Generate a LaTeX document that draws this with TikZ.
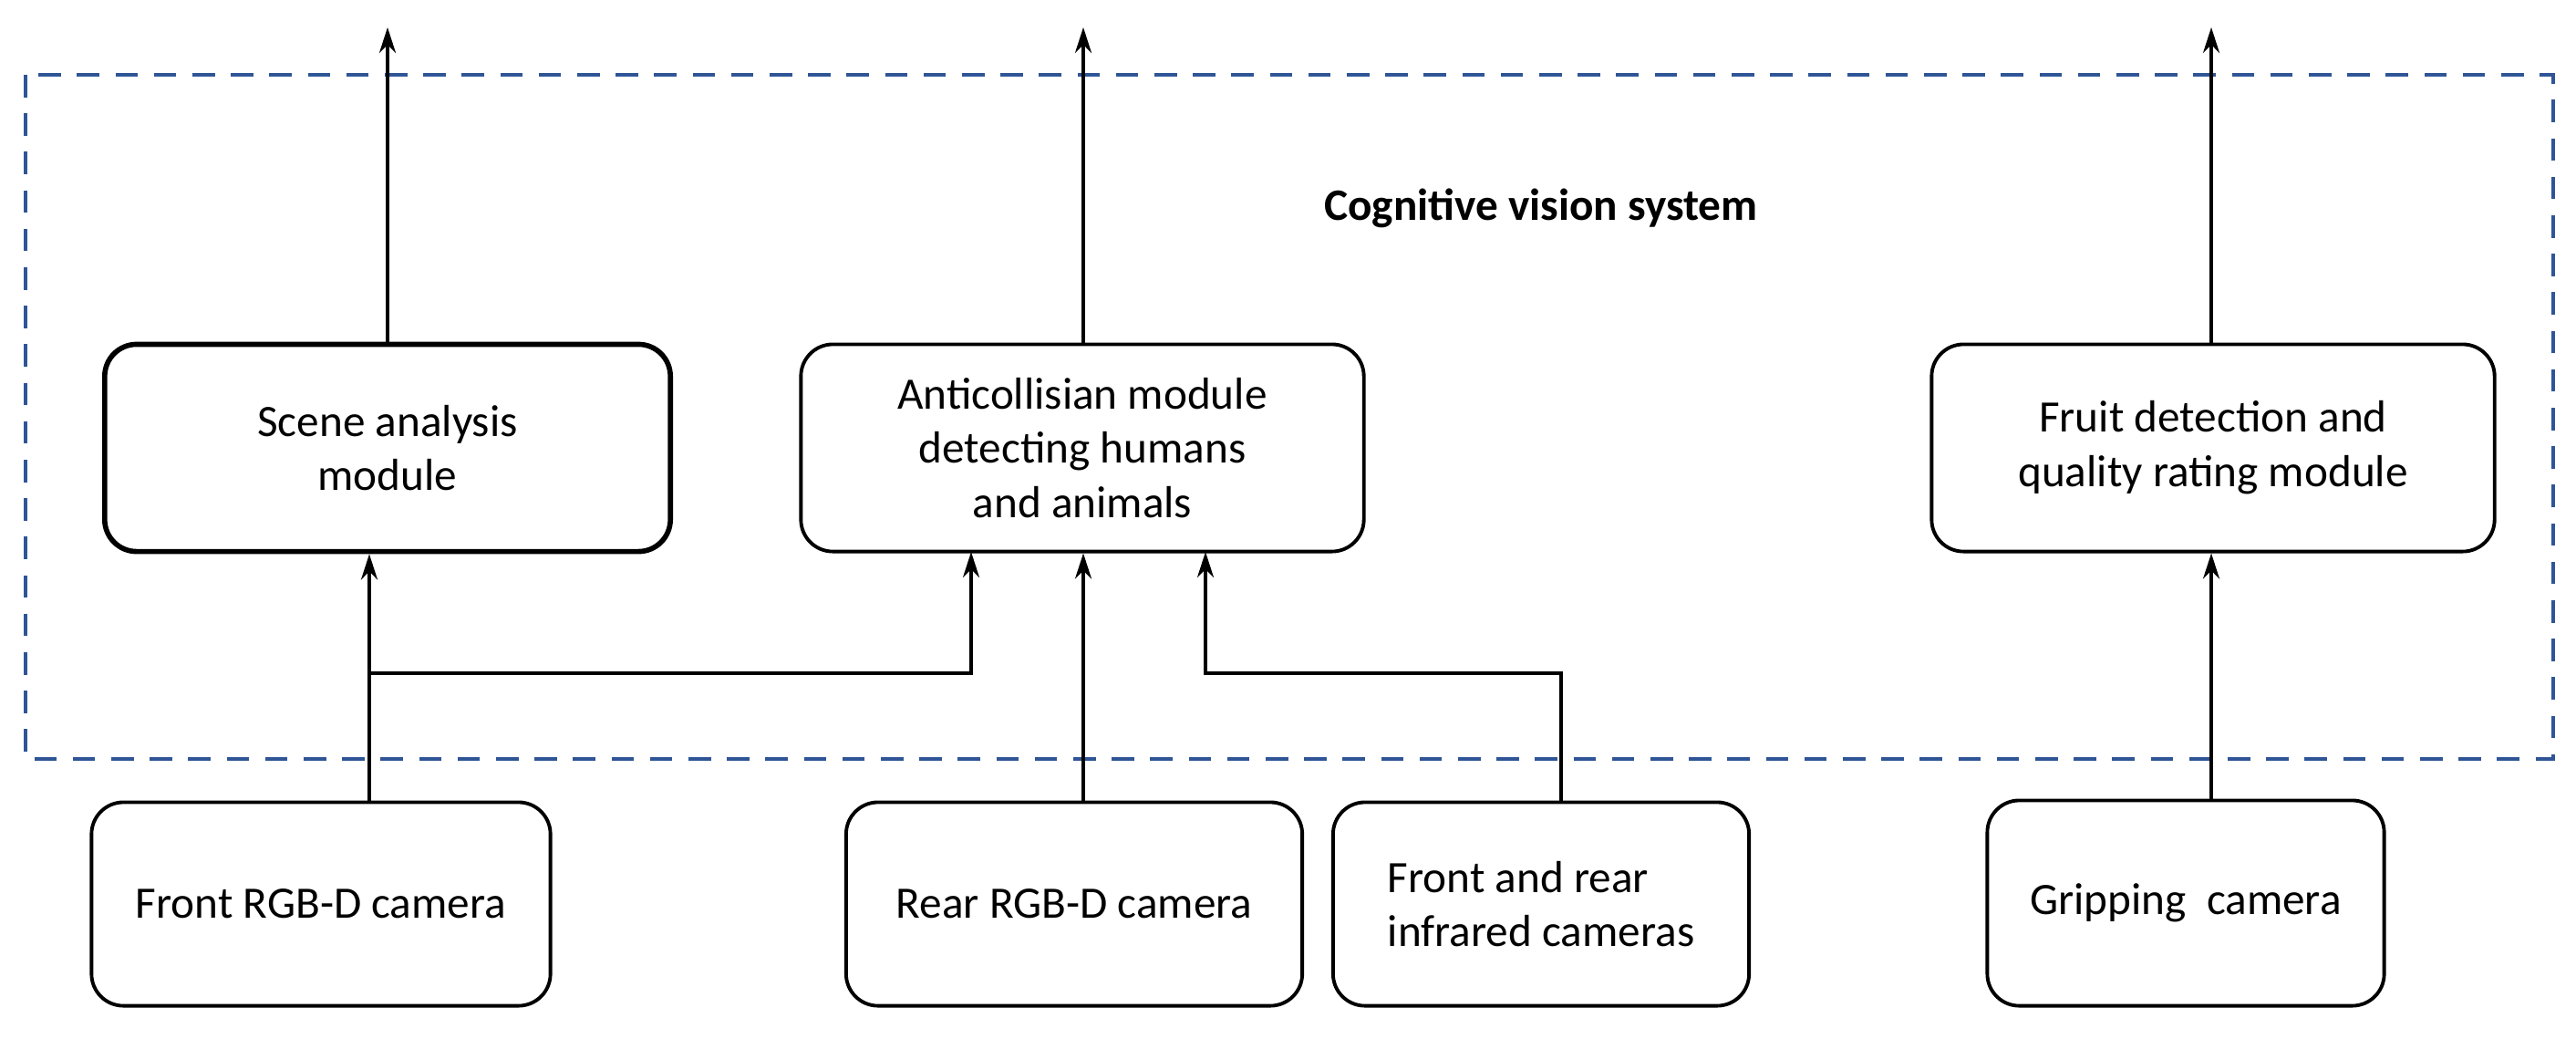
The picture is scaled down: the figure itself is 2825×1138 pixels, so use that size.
\documentclass[tikz,border=0pt]{standalone}
\usepackage{fontspec}
\setmainfont{Carlito}
\usetikzlibrary{arrows.meta}
\definecolor{dashblue}{RGB}{47,85,151}
\begin{document}
\begin{tikzpicture}[x=0.01cm,y=-0.01cm,
  box/.style={draw,rounded corners=0.35cm,line width=1.1pt,align=center,font=\fontsize{14}{17}\selectfont,inner sep=0pt},
  arr/.style={-{Stealth[length=0.28cm,width=0.18cm]},line width=1.1pt}]
\useasboundingbox (0,0) rectangle (2825,1138);
\draw[dashblue,dash pattern=on 7pt off 5pt,line width=1.1pt] (28,82) rectangle (2800,832);
\node[font=\bfseries\fontsize{14}{17}\selectfont] (title) at (1690,228) {Cognitive vision system};
\node[box,line width=1.6pt,minimum width=6.2cm,minimum height=2.27cm] (scene) at (425,491) {Scene analysis\\module};
\node[box,minimum width=6.17cm,minimum height=2.27cm] (anti) at (1187,491) {Anticollisian module\\detecting humans\\and animals};
\node[box,minimum width=6.17cm,minimum height=2.27cm] (fruit) at (2427,491) {Fruit detection and\\quality rating module};
\node[box,minimum width=5.03cm,minimum height=2.23cm] (front) at (352,991) {Front RGB-D camera};
\node[box,minimum width=5.0cm,minimum height=2.23cm] (rear) at (1178,991) {Rear RGB-D camera};
\node[box,minimum width=4.56cm,minimum height=2.23cm,align=left] (ir) at (1690,991) {Front and rear\\infrared cameras};
\node[box,minimum width=4.35cm,minimum height=2.25cm] (grip) at (2397,990) {Gripping~ camera};
\coordinate (o1) at (425,30); \coordinate (o2) at (1188,30); \coordinate (o3) at (2425,30);
\draw[arr] (scene.north -| o1) -- (o1);
\draw[arr] (anti.north -| o2) -- (o2);
\draw[arr] (fruit.north -| o3) -- (o3);
\coordinate (fx) at (405,0);
\coordinate (j1) at (405,738);
\draw[arr] (front.north -| fx) -- (scene.south -| fx);
\draw[arr] (j1) -- (1065,738) -- (1065,605);
\draw[arr] (rear.north -| o2) -- (anti.south -| o2);
\coordinate (ix) at (1712,0);
\draw[arr] (ir.north -| ix) -- (1712,738) -- (1322,738) -- (1322,605);
\draw[arr] (grip.north -| o3) -- (fruit.south -| o3);
\end{tikzpicture}
\end{document}
